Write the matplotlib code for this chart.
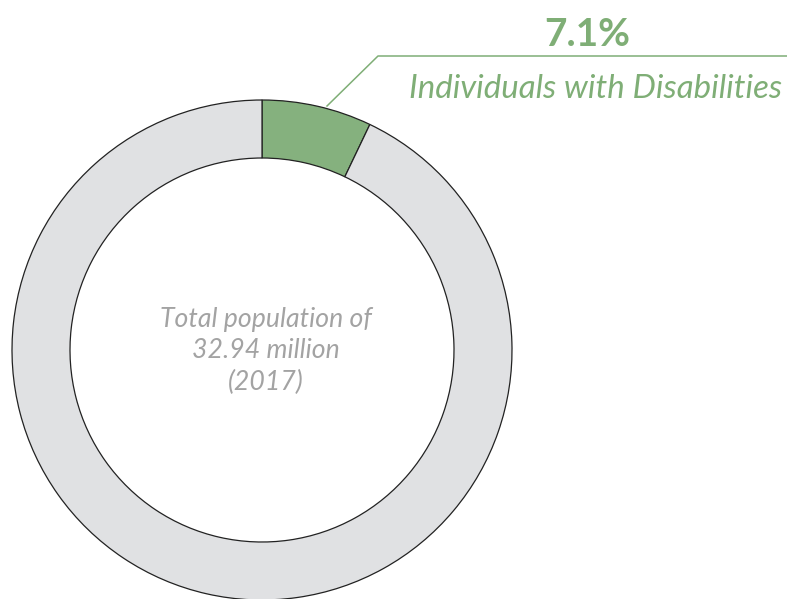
import matplotlib.pyplot as plt

# data
labels = ["Individuals with Disabilities", "Others"]
shares = [7.1, 92.9]
colors = ["#85b17e", "#e0e1e3"]
pct_label = "7.1%"
center_lines = ["Total population of", "32.94 million", "(2017)"]

W, H = 787, 599
fig = plt.figure(figsize=(W / 100, H / 100), dpi=100)
ax = fig.add_axes([0, 0, 1, 1])

cx, cy = 262, H - 350
r_out, ring = 250, 58

ax.pie(shares, colors=colors, startangle=90, counterclock=False,
       center=(cx, cy), radius=r_out,
       wedgeprops=dict(width=ring, edgecolor="#222222", linewidth=0.9))

ax.set_xlim(0, W)
ax.set_ylim(0, H)
ax.set_aspect("equal")
ax.axis("off")

green = "#7fae76"
# leader line from the wedge to the label
ax.plot([327, 378, W], [H - 106, H - 56, H - 56], color=green, lw=1.1, clip_on=False)

ax.text(587, H - 34, pct_label, color=green, fontsize=28, fontweight="bold",
        family="Lato", ha="center", va="center")
ax.text(596, H - 89, labels[0], color=green, fontsize=23.8, style="italic",
        family="Lato", ha="center", va="center")

ax.text(cx + 4, H - 351, "\n".join(center_lines), color="#a3a3a3", fontsize=19.2,
        style="italic", family="Lato", ha="center", va="center", linespacing=1.33)

fig.savefig("out.png", dpi=100)
